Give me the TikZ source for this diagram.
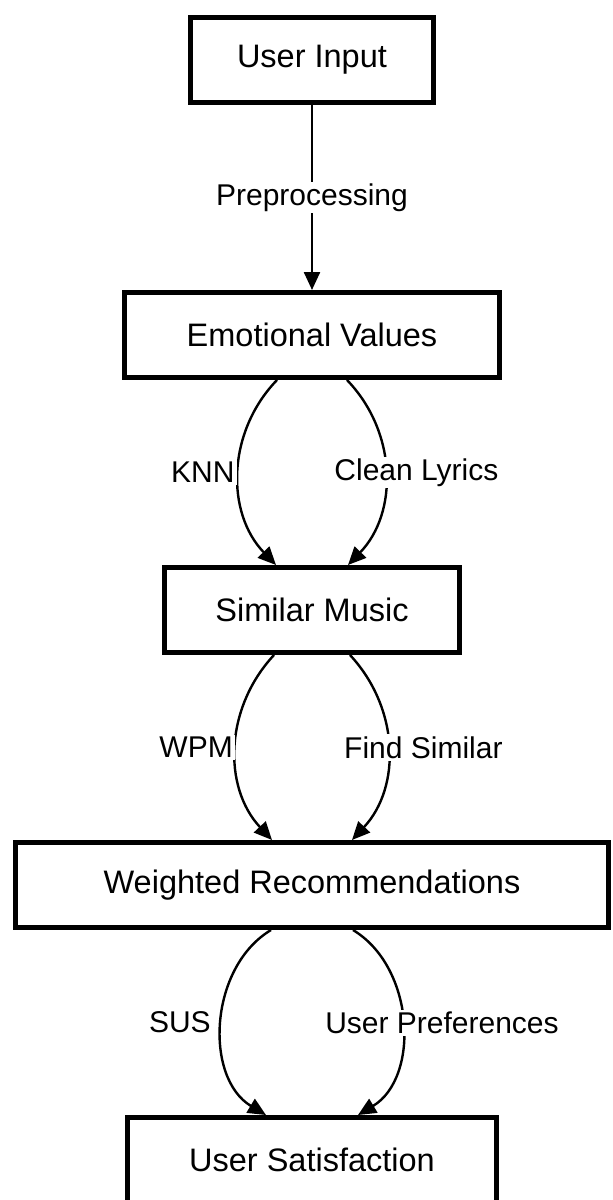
\documentclass[tikz,border=0pt]{standalone}
\usepackage{fontspec}
\setmainfont{Liberation Sans}
\usetikzlibrary{positioning,arrows.meta}

\begin{document}
\begin{tikzpicture}[node distance=92.5pt,
    box/.style={draw, line width=2.3pt, minimum height=42.7pt, inner sep=0pt,
        font=\fontsize{16.25}{19}\selectfont},
    lbl/.style={fill=white, inner sep=1pt, font=\fontsize{15}{18}\selectfont},
    flow/.style={-{Triangle[length=9pt,width=8pt]}, line width=1.2pt}]

    \useasboundingbox (-156pt,30pt) rectangle (150.5pt,-570pt);

    \node (ui) [box, minimum width=121.2pt] {User Input};
    \node (ev) [box, minimum width=187.2pt, below=of ui] {Emotional Values};
    \node (sm) [box, minimum width=147.2pt, below=of ev] {Similar Music};
    \node (wr) [box, minimum width=296.2pt, below=of sm] {Weighted Recommendations};
    \node (us) [box, minimum width=184.2pt, below=of wr] {User Satisfaction};

    \path[flow] (ui) edge node[lbl] (pre) {Preprocessing} (ev);

    \path[flow] ([xshift=-17.5pt]ev.south) edge[out=-134, in=134]
        node[lbl, anchor=east, xshift=-0.5pt] (knn) {KNN} ([xshift=-18pt]sm.north);
    \path[flow] ([xshift=17.5pt]ev.south) edge[out=-46, in=46]
        node[lbl, anchor=west, xshift=-27pt] (lyr) {Clean Lyrics} ([xshift=18pt]sm.north);

    \path[flow] ([xshift=-19pt]sm.south) edge[out=-133, in=133]
        node[lbl, anchor=east, xshift=0pt] (wpm) {WPM} ([xshift=-20pt]wr.north);
    \path[flow] ([xshift=19pt]sm.south) edge[out=-47, in=47]
        node[lbl, anchor=west, xshift=-23.5pt] (sim) {Find Similar} ([xshift=20pt]wr.north);

    \path[flow] ([xshift=-20.5pt]wr.south) edge[out=-149, in=149]
        node[lbl, anchor=east, xshift=-4pt] (sus) {SUS} ([xshift=-23pt]us.north);
    \path[flow] ([xshift=20.5pt]wr.south) edge[out=-31, in=31]
        node[lbl, anchor=west, xshift=-40pt] (pref) {User Preferences} ([xshift=23pt]us.north);

\end{tikzpicture}
\end{document}
